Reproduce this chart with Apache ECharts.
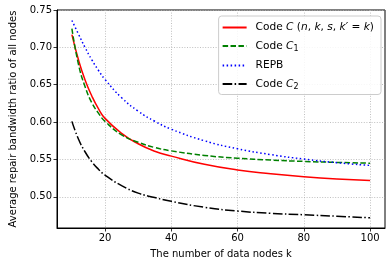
<!DOCTYPE html>
<html>
<head>
<meta charset="utf-8">
<script src="https://cdn.jsdelivr.net/npm/echarts@6/dist/echarts.min.js"></script>
<style>html,body{margin:0;padding:0;background:#fff}#c{width:392px;height:266px}</style>
</head>
<body>
<div id="c"></div>
<script>
const kValues = [10, 12, 14, 16, 18, 20, 25, 30, 35, 40, 50, 60, 70, 80, 90, 100];
const codeC  = [0.717, 0.683, 0.656, 0.635, 0.618, 0.605, 0.585, 0.571, 0.561, 0.5545, 0.5435, 0.536, 0.531, 0.527, 0.524, 0.522];
const codeC1 = [0.725, 0.677, 0.647, 0.626, 0.612, 0.601, 0.583, 0.573, 0.566, 0.5615, 0.5554, 0.5517, 0.5492, 0.5474, 0.5461, 0.545];
const repb   = [0.736, 0.7176, 0.6996, 0.6834, 0.6693, 0.657, 0.6326, 0.6146, 0.6011, 0.5905, 0.575, 0.5643, 0.5565, 0.5505, 0.5457, 0.542];
const codeC2 = [0.601, 0.577, 0.560, 0.547, 0.537, 0.529, 0.515, 0.505, 0.499, 0.494, 0.486, 0.481, 0.478, 0.476, 0.474, 0.472];
const xTicks = [20, 40, 60, 80, 100];
const yTicks = [0.50, 0.55, 0.60, 0.65, 0.70, 0.75];
const names = ['Code C (n, k, s, k′ = k)', 'Code C1', 'REPB', 'Code C2'];

const pairs = arr => kValues.map((k, i) => [k, arr[i]]);
const font = 'DejaVu Sans';
const legendRich = {
  g: {width: 4},
  n: {fontFamily: font, fontSize: 10.6, color: '#000'},
  i: {fontFamily: font, fontSize: 10.6, fontStyle: 'italic', color: '#000'},
  s: {fontFamily: font, fontSize: 8, color: '#000', verticalAlign: 'bottom', padding: [5, 0, 0, 0]}
};
const legendFmt = {
  [names[0]]: '{g|}{n|Code }{i|C}{n| (}{i|n}{n|, }{i|k}{n|, }{i|s}{n|, }{i|k′}{n| = }{i|k}{n|)}',
  [names[1]]: '{g|}{n|Code }{i|C}{s|1}',
  [names[2]]: '{g|}{n|REPB}',
  [names[3]]: '{g|}{n|Code }{i|C}{s|2}'
};

const chart = echarts.init(document.getElementById('c'), null, {renderer: 'canvas'});
const axisCommon = {
  axisLine: {show: true, lineStyle: {color: '#000', width: 1}},
  axisTick: {show: true, length: 3.5, lineStyle: {color: '#000', width: 0.8}},
  splitLine: {show: true, lineStyle: {color: '#b0b0b0', width: 0.8, type: [1, 1.6]}},
  nameTextStyle: {fontFamily: font, fontSize: 10, color: '#000'}
};
chart.setOption({
  animation: false,
  backgroundColor: '#fff',
  grid: {left: 51, right: 7, top: 10, bottom: 38, show: true, borderColor: '#000', borderWidth: 1, backgroundColor: 'transparent'},
  xAxis: Object.assign({}, axisCommon, {
    type: 'value', min: 5.5, max: 104.5,
    name: 'The number of data nodes k', nameLocation: 'middle', nameGap: 21,
    axisTick: Object.assign({}, axisCommon.axisTick, {customValues: xTicks}),
    axisLabel: {customValues: xTicks, fontFamily: font, fontSize: 10, color: '#000', margin: 5}
  }),
  yAxis: Object.assign({}, axisCommon, {
    type: 'value', min: 0.4583, max: 0.75,
    name: 'Average repair bandwidth ratio of all nodes', nameLocation: 'middle', nameGap: 39,
    axisTick: Object.assign({}, axisCommon.axisTick, {customValues: yTicks}),
    axisLabel: {customValues: yTicks, fontFamily: font, fontSize: 10, color: '#000', margin: 5,
      formatter: v => v.toFixed(2)}
  }),
  legend: {
    orient: 'vertical', right: 11, top: 16,
    data: names,
    itemWidth: 24, itemHeight: 10, itemGap: 7.5,
    padding: [6, 7, 4, 3],
    backgroundColor: 'rgba(255,255,255,0.85)',
    borderColor: '#cccccc', borderWidth: 1, borderRadius: 3,
    itemStyle: {opacity: 0},
    formatter: name => legendFmt[name],
    textStyle: {rich: legendRich, fontFamily: font, fontSize: 10.6, color: '#000'}
  },
  series: [
    {name: names[0], type: 'line', data: pairs(codeC), smooth: true, showSymbol: false, symbol: 'none',
      lineStyle: {color: '#ff0000', width: 1.5}, itemStyle: {color: '#ff0000'}},
    {name: names[1], type: 'line', data: pairs(codeC1), smooth: true, showSymbol: false, symbol: 'none',
      lineStyle: {color: '#008000', width: 1.5, type: [5.5, 2.4]}, itemStyle: {color: '#008000'}},
    {name: names[2], type: 'line', data: pairs(repb), smooth: true, showSymbol: false, symbol: 'none',
      lineStyle: {color: '#0000ff', width: 1.5, type: [1.5, 2.5]}, itemStyle: {color: '#0000ff'}},
    {name: names[3], type: 'line', data: pairs(codeC2), smooth: true, showSymbol: false, symbol: 'none',
      lineStyle: {color: '#000000', width: 1.5, type: [9.6, 2.4, 1.5, 2.4]}, itemStyle: {color: '#000000'}}
  ]
});
</script>
</body>
</html>
